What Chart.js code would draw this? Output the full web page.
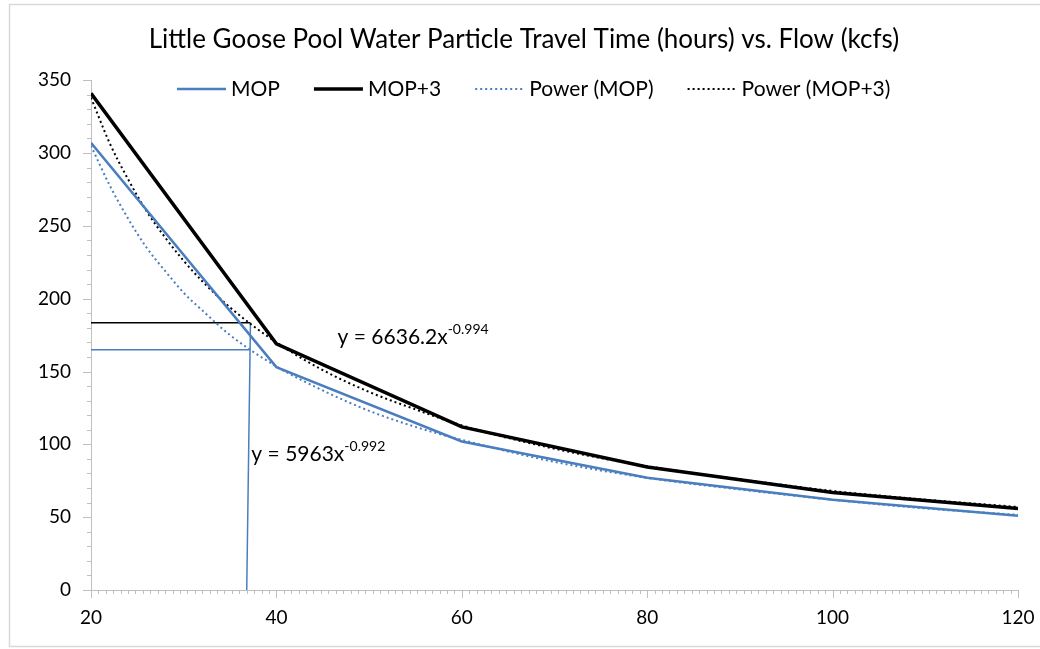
<!DOCTYPE html>
<html>
<head>
<meta charset="utf-8">
<script src="https://cdn.jsdelivr.net/npm/chart.js@4/dist/chart.umd.min.js"></script>
<style>
  html, body { margin: 0; padding: 0; background: #fff; }
  #wrap { position: relative; width: 1040px; height: 649px; }
</style>
</head>
<body>
<div id="wrap"><canvas id="c" width="1040" height="649"></canvas></div>
<script>
// ---- data ----
const flow = [20, 40, 60, 80, 100, 120];
const mop = [307, 153, 102, 77, 62, 51];
const mop3 = [341, 169, 112, 84.5, 67, 56];

const trendFlow = [20, 22, 24, 26, 28, 30, 32, 35, 40, 45, 50, 55, 60, 70, 80, 90, 100, 110, 120];
const powerMop = [305, 278, 255, 235, 219, 204, 192, 175, 153.5, 137, 123, 112, 103, 88, 77, 69, 62, 56, 51.6];
const powerMop3 = [338, 307, 282, 260, 242, 226, 212, 194, 170, 151, 136, 124, 113, 97, 85, 76, 68, 62, 57];

// guide lines (flow, time)
const guideMopFlow = [20, 37.2, null, 37.2, 36.8];
const guideMopTime = [165, 165, null, 183.5, 0];
const guideMop3Flow = [20, 37.2];
const guideMop3Time = [183.5, 183.5];

const xTicks = [20, 40, 60, 80, 100, 120];
const yTicks = [0, 50, 100, 150, 200, 250, 300, 350];

const seriesNames = ['MOP', 'MOP+3', 'Power (MOP)', 'Power (MOP+3)'];
const titleText = 'Little Goose Pool Water Particle Travel Time (hours) vs. Flow (kcfs)';
const eqMop3 = { base: 'y = 6636.2x', exp: '-0.994' };
const eqMop = { base: 'y = 5963x', exp: '-0.992' };

const FONT = 'Lato, "Open Sans", sans-serif';
const BLUE = '#4a7ebf';

const pts = (xs, ys) => xs.map((x, i) => (x === null ? { x: NaN, y: null } : { x: x, y: ys[i] }));

const minorTicks = {
  id: 'minorTicks',
  afterDraw(chart) {
    const ctx = chart.ctx;
    const xs = chart.scales.x, ys = chart.scales.y;
    const area = chart.chartArea;
    ctx.save();
    ctx.strokeStyle = '#bfbfbf';
    ctx.lineWidth = 1;
    ctx.beginPath();
    for (let i = 0; i <= 125; i++) {
      const v = 20 + i * 0.8;
      const px = Math.round(xs.getPixelForValue(v)) + 0.5;
      const major = i % 25 === 0;
      ctx.moveTo(px, area.bottom);
      ctx.lineTo(px, area.bottom + (major ? 8 : 4));
    }
    for (let v = 0; v <= 350; v += 10) {
      const py = Math.round(ys.getPixelForValue(v)) + 0.5;
      const major = v % 50 === 0;
      ctx.moveTo(area.left, py);
      ctx.lineTo(area.left - (major ? 8 : 4), py);
    }
    ctx.stroke();
    ctx.restore();
  }
};

const equations = {
  id: 'equations',
  afterDraw(chart) {
    const ctx = chart.ctx;
    const xs = chart.scales.x, ys = chart.scales.y;
    const draw = (eq, fx, fy) => {
      const x = xs.getPixelForValue(fx), y = ys.getPixelForValue(fy);
      ctx.save();
      ctx.fillStyle = '#000';
      ctx.textBaseline = 'alphabetic';
      ctx.textAlign = 'left';
      ctx.font = '21px ' + FONT;
      ctx.fillText(eq.base, x, y);
      const w = ctx.measureText(eq.base).width;
      ctx.font = '14px ' + FONT;
      ctx.fillText(eq.exp, x + w, y - 10);
      ctx.restore();
    };
    draw(eqMop3, 46.6, 169);
    draw(eqMop, 37.3, 88.5);
  }
};

const customLegend = {
  id: 'customLegend',
  afterDraw(chart) {
    const ctx = chart.ctx;
    const styles = [
      { color: BLUE, width: 2.5, dash: [] },
      { color: '#000', width: 3.5, dash: [] },
      { color: BLUE, width: 2, dash: [2, 3] },
      { color: '#000', width: 2, dash: [2, 3] }
    ];
    let x = 177;
    const y = 89;
    ctx.save();
    ctx.font = '21px ' + FONT;
    ctx.textBaseline = 'middle';
    ctx.textAlign = 'left';
    seriesNames.forEach((name, i) => {
      const s = styles[i];
      ctx.beginPath();
      ctx.strokeStyle = s.color;
      ctx.lineWidth = s.width;
      ctx.setLineDash(s.dash);
      ctx.moveTo(x, y);
      ctx.lineTo(x + 49, y);
      ctx.stroke();
      ctx.setLineDash([]);
      ctx.fillStyle = '#000';
      ctx.fillText(name, x + 54, y);
      x += 54 + ctx.measureText(name).width + 34;
    });
    ctx.restore();
  }
};

const border = {
  id: 'border',
  beforeDraw(chart) {
    const ctx = chart.ctx;
    ctx.save();
    ctx.fillStyle = '#fff';
    ctx.fillRect(0, 0, chart.width, chart.height);
    ctx.strokeStyle = '#d9d9d9';
    ctx.lineWidth = 1.5;
    ctx.strokeRect(9.5, 4.5, 1040, 642);
    ctx.restore();
  }
};

new Chart(document.getElementById('c'), {
  type: 'line',
  data: {
    datasets: [
      { label: seriesNames[0], data: pts(flow, mop), borderColor: BLUE, borderWidth: 2.5, pointRadius: 0, order: 2 },
      { label: seriesNames[1], data: pts(flow, mop3), borderColor: '#000', borderWidth: 3.5, pointRadius: 0, order: 1 },
      { label: seriesNames[2], data: pts(trendFlow, powerMop), borderColor: BLUE, borderWidth: 2, borderDash: [2, 3], pointRadius: 0, cubicInterpolationMode: 'monotone', order: 4 },
      { label: seriesNames[3], data: pts(trendFlow, powerMop3), borderColor: '#000', borderWidth: 2, borderDash: [2, 3], pointRadius: 0, cubicInterpolationMode: 'monotone', order: 3 },
      { label: 'guideMop', data: pts(guideMopFlow, guideMopTime), borderColor: BLUE, borderWidth: 1.5, pointRadius: 0, spanGaps: false, order: 6 },
      { label: 'guideMop3', data: pts(guideMop3Flow, guideMop3Time), borderColor: '#000', borderWidth: 1.5, pointRadius: 0, order: 5 }
    ]
  },
  options: {
    responsive: false,
    animation: false,
    layout: { padding: { left: 30, right: 22, top: 0, bottom: 0 } },
    plugins: {
      title: {
        display: true,
        text: titleText,
        color: '#000',
        font: { family: FONT, size: 26, weight: 'normal' },
        padding: { top: 24, bottom: 25 }
      },
      legend: { display: false },
      tooltip: { enabled: false }
    },
    scales: {
      x: {
        type: 'linear',
        min: 20, max: 120,
        afterBuildTicks: (s) => { s.ticks = xTicks.map(v => ({ value: v })); },
        afterFit: (s) => { s.height = 59; s.paddingRight = 0; s.paddingLeft = 0; },
        ticks: { color: '#000', font: { family: FONT, size: 19 }, padding: 8, maxRotation: 0 },
        grid: { display: true, drawOnChartArea: false, drawTicks: true, tickLength: 8, tickColor: 'rgba(0,0,0,0)' },
        border: { display: true, color: '#bfbfbf', width: 1 }
      },
      y: {
        min: 0, max: 350,
        afterBuildTicks: (s) => { s.ticks = yTicks.map(v => ({ value: v })); },
        afterFit: (s) => { s.width = 61; },
        ticks: { color: '#000', font: { family: FONT, size: 19 }, padding: 12 },
        grid: { display: true, drawOnChartArea: false, drawTicks: true, tickLength: 8, tickColor: 'rgba(0,0,0,0)' },
        border: { display: true, color: '#bfbfbf', width: 1 }
      }
    }
  },
  plugins: [border, minorTicks, equations, customLegend]
});
</script>
</body>
</html>
